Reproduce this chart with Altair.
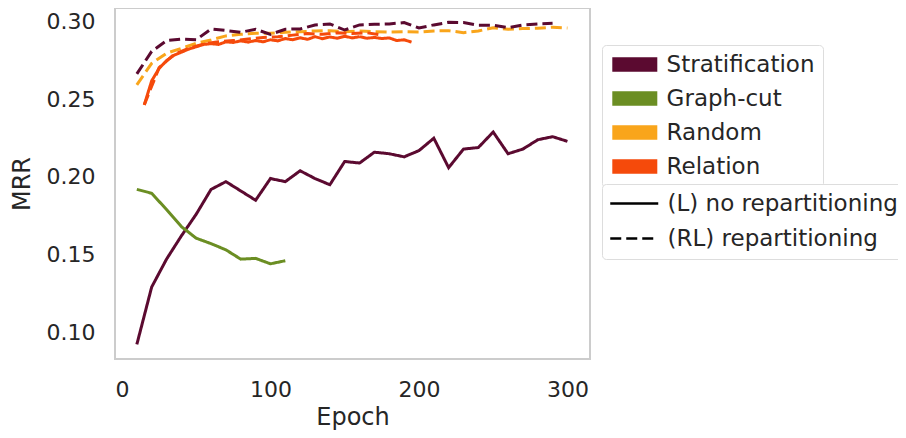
import altair as alt
import pandas as pd

methods = ["Stratification", "Graph-cut", "Random", "Relation"]
colors = ["#5b0a30", "#6b8e23", "#f9a51b", "#f54a0b"]
modes = ["(L) no repartitioning", "(RL) repartitioning"]

strat_L_epoch = list(range(10, 310, 10))
strat_L = [0.092, 0.129, 0.147, 0.162, 0.176, 0.192, 0.197, 0.191, 0.185, 0.199,
           0.197, 0.204, 0.199, 0.195, 0.210, 0.209, 0.216, 0.215, 0.213, 0.217,
           0.225, 0.206, 0.218, 0.219, 0.229, 0.215, 0.218, 0.224, 0.226, 0.223]

graph_L_epoch = list(range(10, 120, 10))
graph_L = [0.192, 0.1895, 0.179, 0.168, 0.1605, 0.157, 0.153, 0.147, 0.1475, 0.144, 0.146]

strat_RL_epoch = list(range(10, 300, 10))
strat_RL = [0.2665, 0.281, 0.288, 0.289, 0.2885, 0.2955, 0.2945, 0.2933, 0.2953, 0.292,
            0.2953, 0.2955, 0.298, 0.2987, 0.2948, 0.2981, 0.2985, 0.2987, 0.2996, 0.2961,
            0.2981, 0.2998, 0.2996, 0.2979, 0.2979, 0.2963, 0.2981, 0.2987, 0.2991]

random_RL_epoch = list(range(10, 310, 10))
random_RL = [0.2594, 0.2733, 0.2798, 0.283, 0.2862, 0.2884, 0.291, 0.292, 0.2927, 0.2927,
             0.2933, 0.2937, 0.2942, 0.2944, 0.2937, 0.2942, 0.2937, 0.2935, 0.2937, 0.2935,
             0.2942, 0.2944, 0.2931, 0.2942, 0.2963, 0.2953, 0.2957, 0.2959, 0.2966, 0.2961]

relation_L_epoch = list(range(15, 200, 5))
relation_L = [0.2465, 0.2620, 0.2700, 0.2750, 0.2785, 0.2805, 0.2825, 0.2840, 0.2855, 0.2860,
              0.2855, 0.2872, 0.2868, 0.2878, 0.2870, 0.2880, 0.2872, 0.2885, 0.2878, 0.2893,
              0.2885, 0.2898, 0.2888, 0.2905, 0.2892, 0.2903, 0.2895, 0.2908, 0.2897, 0.2905,
              0.2895, 0.2900, 0.2893, 0.2897, 0.2880, 0.2885, 0.2870]

relation_RL_epoch = list(range(15, 185, 10))
relation_RL = [0.2465, 0.2705, 0.2790, 0.2830, 0.2858, 0.2872, 0.2880, 0.2890, 0.2900,
               0.2905, 0.2915, 0.2925, 0.2920, 0.2930, 0.2925, 0.2930, 0.2915]

series = [
    ("Random", modes[1], random_RL_epoch, random_RL),
    ("Stratification", modes[1], strat_RL_epoch, strat_RL),
    ("Relation", modes[1], relation_RL_epoch, relation_RL),
    ("Relation", modes[0], relation_L_epoch, relation_L),
    ("Stratification", modes[0], strat_L_epoch, strat_L),
    ("Graph-cut", modes[0], graph_L_epoch, graph_L),
]
rows = []
for i, (m, md, ep, vals) in enumerate(series):
    for e, v in zip(ep, vals):
        rows.append({"method": m, "mode": md, "epoch": e, "mrr": v, "sid": i})
df = pd.DataFrame(rows)

font = "DejaVu Sans"
txt = "#262626"

# filled-looking rectangle made of stacked horizontal strokes
stripes = "".join(f"M-4.5,{y:.1f}H4.5" for y in [-1.2, -0.8, -0.4, 0.0, 0.4, 0.8, 1.2])

color_legend = alt.Legend(
    title=None, orient="none", legendX=487, legendY=37,
    symbolType=stripes, symbolSize=100, symbolStrokeWidth=2.4,
    symbolOpacity=1, labelFontSize=23, labelFont=font, labelColor=txt, labelLimit=400,
    rowPadding=10, padding=8, strokeColor="#dddddd", cornerRadius=4,
    fillColor="white", symbolOffset=13.3, labelOffset=20.3,
)
dash_legend = alt.Legend(
    title=None, orient="none", legendX=487, legendY=176,
    symbolType="M-2.4,0H2.4", symbolSize=400, symbolStrokeWidth=2.5,
    symbolStrokeColor="black", symbolOpacity=1,
    labelFontSize=23, labelFont=font, labelColor=txt, labelLimit=400,
    rowPadding=11, padding=8, strokeColor="#dddddd", cornerRadius=4,
    fillColor="white", symbolOffset=12.75, labelOffset=21.75,
)

chart = alt.Chart(df).mark_line(strokeWidth=3).encode(
    x=alt.X("epoch:Q",
            scale=alt.Scale(domain=[-4.7, 315.2], nice=False, zero=False),
            axis=alt.Axis(values=[0, 100, 200, 300], title="Epoch", titlePadding=5)),
    y=alt.Y("mrr:Q",
            scale=alt.Scale(domain=[0.0826, 0.309], nice=False, zero=False),
            axis=alt.Axis(values=[0.10, 0.15, 0.20, 0.25, 0.30], format=".2f",
                          title="MRR", titlePadding=12)),
    color=alt.Color("method:N", scale=alt.Scale(domain=methods, range=colors), legend=color_legend),
    strokeDash=alt.StrokeDash("mode:N", scale=alt.Scale(domain=modes, range=[[1, 0], [11, 5]]),
                              legend=dash_legend),
    detail="sid:N",
).properties(
    width=475, height=351,
    autosize=alt.AutoSizeParams(type="none"),
    padding={"left": 107, "top": 0, "right": 308, "bottom": 71},
).configure_view(
    stroke="#cccccc", strokeWidth=2
).configure_axis(
    domain=False, ticks=False, grid=False,
    labelFont=font, labelFontSize=22, labelColor=txt, labelPadding=20,
    titleFont=font, titleFontSize=24, titleFontWeight="normal", titleColor=txt,
)

chart.save("out.html", embed_options={"renderer": "svg", "actions": False})
